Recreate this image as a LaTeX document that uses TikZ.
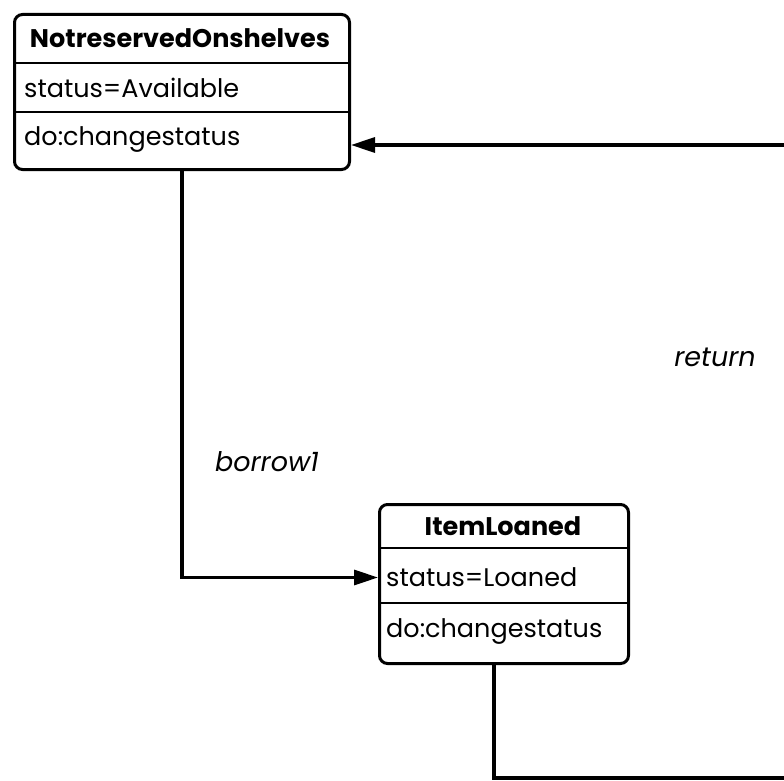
\documentclass[tikz,border=0pt]{standalone}
\usepackage{fontspec}
\setmainfont{Poppins}
\usetikzlibrary{arrows.meta}
\begin{document}
\begin{tikzpicture}[x=1pt,y=-1pt,
  statebox/.style={draw, line width=3pt, rounded corners=8pt, anchor=north west, inner sep=0pt},
  divider/.style={line width=2.6pt},
  title/.style={font=\fontsize{25.5}{27}\selectfont\bfseries, inner sep=0pt},
  field/.style={font=\fontsize{25.5}{27}\selectfont, anchor=west, inner sep=0pt},
  trans/.style={line width=3.2pt, line join=miter},
  tip/.style={-{Triangle[length=24pt,width=15pt]}},
  evlabel/.style={font=\fontsize{27}{29}\selectfont\itshape, inner sep=0pt}]
\useasboundingbox (0,0) rectangle (784,781);

% state NotreservedOnshelves
\node[statebox, minimum width=335pt, minimum height=155pt] (avail) at (13,13) {};
\draw[divider] (avail.west |- 0,63) -- (avail.east |- 0,63);
\draw[divider] (avail.west |- 0,112) -- (avail.east |- 0,112);
\node[title] (availT) at (180,38) {NotreservedOnshelves};
\node[field] (availS) at (24,88) {status=Available};
\node[field] (availD) at (24,140) {do:changestatus};

% state ItemLoaned
\node[statebox, minimum width=249pt, minimum height=159pt] (loaned) at (378,503) {};
\draw[divider] (loaned.west |- 0,548) -- (loaned.east |- 0,548);
\draw[divider] (loaned.west |- 0,603) -- (loaned.east |- 0,603);
\node[title] (loanedT) at (503,526) {ItemLoaned};
\node[field] (loanedS) at (386,577) {status=Loaned};
\node[field] (loanedD) at (386,632) {do:changestatus};

% loose ends leaving the right edge
\coordinate (retIn) at (792,145);
\coordinate (outR) at (792,778);

% transitions
\draw[trans, tip] (avail.south) |- ([yshift=6.5pt]loaned.west);
\draw[trans, tip] (retIn) -- (avail.east |- retIn);
\draw[trans] ([xshift=-10pt]loaned.south) |- (outR);

% event labels
\node[evlabel] (lblBorrow) at (267,462) {borrow1};
\node[evlabel] (lblReturn) at (715,357) {return};
\end{tikzpicture}
\end{document}
